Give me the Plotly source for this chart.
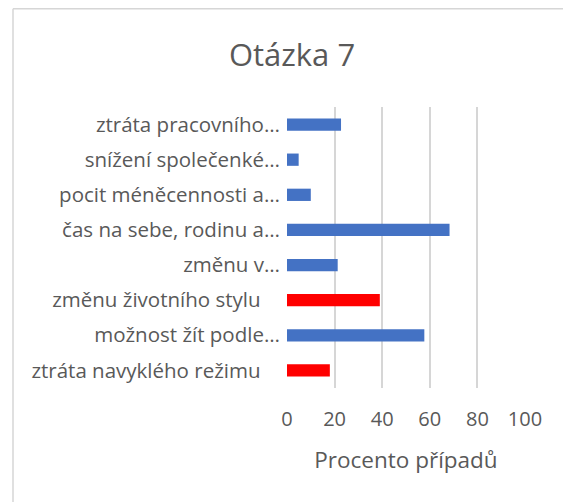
import plotly.graph_objects as go

NBSP = "\u00a0"
categories = [
    "ztráta navyklého režimu" + NBSP * 3 + "\u2009",
    "možnost žít podle…",
    "změnu životního stylu" + NBSP * 3 + "\u2009",
    "změnu v…",
    "čas na sebe, rodinu a…",
    "pocit méněcennosti a…",
    "snížení společenké…",
    "ztráta pracovního…",
]
values = [18, 57.7, 39, 21.3, 68.3, 10, 4.9, 22.7]
bar_colors = ["#FF0000", "#4472C4", "#FF0000", "#4472C4", "#4472C4", "#4472C4", "#4472C4", "#4472C4"]
x_ticks = [0, 20, 40, 60, 80, 100]

title_text = "Otázka 7"
x_title = "Procento případů"

FONT = "Open Sans"
GRAY = "#595959"
GRID = "#D6D6D6"

fig = go.Figure(
    go.Bar(
        y=categories,
        x=values,
        orientation="h",
        marker=dict(color=bar_colors, line=dict(width=0)),
        width=0.35,
        hoverinfo="skip",
    )
)

# the page body has an 8px margin; figure coordinates = reference - 8
OFF = 8
W, H = 571 - OFF, 502 - OFF
L = 287 - OFF
R = W - (525 - OFF)
T = 107 - OFF
B = H - (388 - OFF)
pw, ph = W - L - R, H - T - B

def px_x(px):
    return (px - OFF - L) / pw

def px_y(py):
    return (H - B - (py - OFF)) / ph

fig.update_layout(
    width=W,
    height=H,
    margin=dict(l=L, r=R, t=T, b=B, autoexpand=False),
    paper_bgcolor="white",
    plot_bgcolor="white",
    font=dict(family=FONT, color=GRAY),
    showlegend=False,
    title=dict(
        text=title_text,
        x=(292 - OFF) / W,
        xanchor="center",
        xref="container",
        y=1 - (55 - OFF) / H,
        yanchor="middle",
        yref="container",
        font=dict(size=31, color=GRAY, family=FONT),
    ),
    xaxis=dict(
        range=[0, 100],
        tickvals=x_ticks,
        showgrid=True,
        gridcolor=GRID,
        gridwidth=1.5,
        zeroline=False,
        showline=False,
        ticks="outside",
        ticklen=13,
        tickcolor="rgba(0,0,0,0)",
        tickfont=dict(size=20, color=GRAY, family=FONT),
        title=dict(text=x_title, font=dict(size=22.5, color=GRAY, family=FONT), standoff=21),
        fixedrange=True,
    ),
    yaxis=dict(
        type="category",
        showgrid=False,
        zeroline=False,
        showline=False,
        ticks="outside",
        ticklen=2,
        tickcolor="rgba(0,0,0,0)",
        tickfont=dict(size=20.5, color=GRAY, family=FONT),
        fixedrange=True,
    ),
    shapes=[
        dict(type="line", xref="paper", yref="paper",
             x0=px_x(13), x1=px_x(13), y0=px_y(8.7), y1=px_y(510),
             line=dict(color=GRID, width=1.5)),
        dict(type="line", xref="paper", yref="paper",
             x0=px_x(13), x1=px_x(580), y0=px_y(8.7), y1=px_y(8.7),
             line=dict(color=GRID, width=1.5)),
    ],
)

fig.write_html("out.html")
